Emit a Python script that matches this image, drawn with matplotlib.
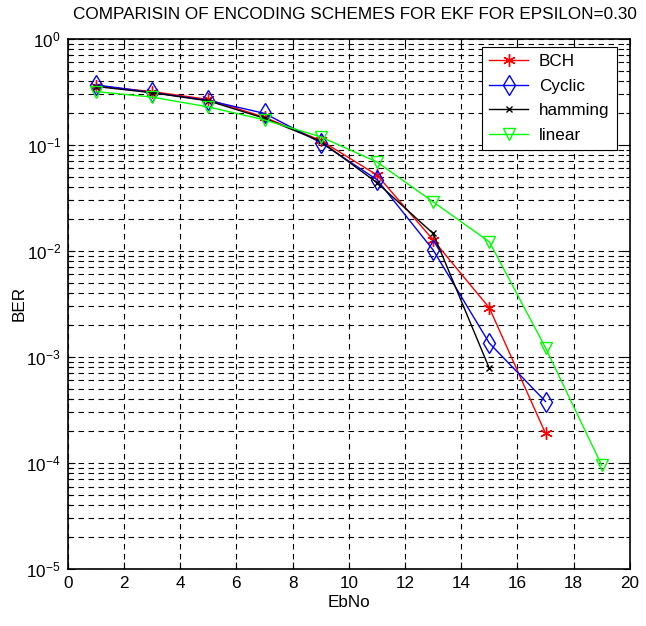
import matplotlib
matplotlib.use('Agg')
import matplotlib.pyplot as plt
from matplotlib.ticker import LogLocator, NullFormatter, MultipleLocator

plt.rcParams['font.family'] = ['Liberation Sans', 'DejaVu Sans']
plt.rcParams['mathtext.fontset'] = 'custom'
plt.rcParams['mathtext.rm'] = 'Liberation Sans'
plt.rcParams['mathtext.it'] = 'Liberation Sans'
plt.rcParams['mathtext.sf'] = 'Liberation Sans'

# data
ebno_bch = [1, 3, 5, 7, 9, 11, 13, 15, 17]
ber_bch = [0.360, 0.318, 0.268, 0.182, 0.110, 0.052, 0.0127, 0.0029, 0.00019]

ebno_cyclic = [1, 3, 5, 7, 9, 11, 13, 15, 17]
ber_cyclic = [0.368, 0.312, 0.262, 0.198, 0.105, 0.047, 0.0102, 0.00135, 0.00038]

ebno_hamming = [1, 3, 5, 7, 9, 11, 13, 15]
ber_hamming = [0.355, 0.310, 0.260, 0.178, 0.108, 0.044, 0.0146, 0.00078]

ebno_linear = [1, 3, 5, 7, 9, 11, 13, 15, 17, 19]
ber_linear = [0.318, 0.282, 0.228, 0.172, 0.119, 0.069, 0.0290, 0.0122, 0.00122, 0.000095]

fs = 12.3

fig = plt.figure(figsize=(6.46, 6.26), dpi=100)
ax = fig.add_axes([0.105, 0.091, 0.870, 0.847])

# matlab-like asterisk
star = (6, 2, 0)
ax.semilogy(ebno_bch, ber_bch, color='red', marker=star, markersize=9,
            markeredgewidth=1, linewidth=1, label='BCH')
ax.semilogy(ebno_cyclic, ber_cyclic, color='blue', marker='d', markersize=10,
            markerfacecolor='none', linewidth=1, label='Cyclic')
ax.semilogy(ebno_hamming, ber_hamming, color='black', marker='x', markersize=5,
            linewidth=1, label='hamming')
ax.semilogy(ebno_linear, ber_linear, color=(0, 1, 0), marker='v', markersize=9,
            markerfacecolor='none', linewidth=1, label='linear')

ax.set_xlim(0, 20)
ax.set_ylim(1e-5, 1)
ax.xaxis.set_major_locator(MultipleLocator(2))
ax.yaxis.set_major_locator(LogLocator(base=10, numticks=10))
ax.yaxis.set_minor_locator(LogLocator(base=10, subs=range(2, 10), numticks=20))
ax.yaxis.set_minor_formatter(NullFormatter())

dash = (0, (5, 4))
ax.grid(True, which='major', color='black', linestyle=dash, linewidth=0.8)
ax.grid(True, which='minor', axis='y', color='black', linestyle=dash, linewidth=0.8)

ax.tick_params(which='both', direction='in', top=True, right=True,
               labelsize=fs, width=0.8)
ax.tick_params(which='major', length=5, pad=5)
ax.tick_params(which='minor', length=3)
for s in ax.spines.values():
    s.set_linewidth(1.2)

ax.set_title('COMPARISIN OF ENCODING SCHEMES FOR EKF FOR EPSILON=0.30',
             fontsize=fs, pad=14, x=0.51)
ax.set_xlabel('EbNo', fontsize=fs, labelpad=3)
ax.set_ylabel('BER', fontsize=fs, labelpad=0)

leg = ax.legend(loc='upper right', bbox_to_anchor=(0.977, 0.985), fontsize=fs,
                fancybox=False, framealpha=1, edgecolor='black',
                borderaxespad=0, borderpad=0.45, handlelength=2.3,
                labelspacing=0.55, handletextpad=0.6)
leg.get_frame().set_linewidth(0.8)

fig.savefig('out.png', dpi=100)
